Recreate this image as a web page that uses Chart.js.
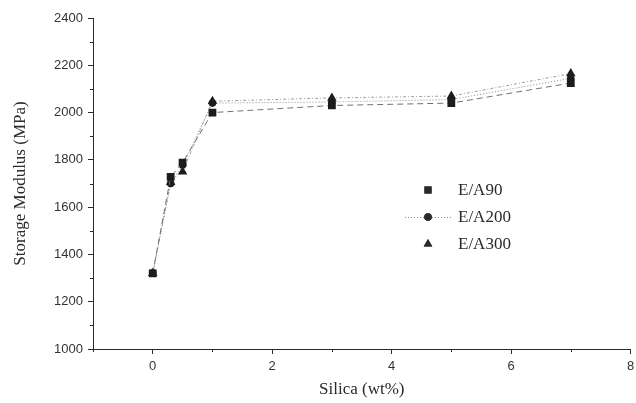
<!DOCTYPE html>
<html>
<head>
<meta charset="utf-8">
<script src="https://cdn.jsdelivr.net/npm/chart.js@4.4.0/dist/chart.umd.min.js"></script>
<style>
  html, body { margin: 0; padding: 0; background: #fff; }
  #wrap { width: 636px; height: 403px; }
</style>
</head>
<body>
<div id="wrap"><canvas id="chart" width="636" height="403"></canvas></div>
<script>
// ---- data ----
const silica = [0, 0.3, 0.5, 1, 3, 5, 7];
const ea90  = [1320, 1728, 1788, 2000, 2030, 2040, 2125];
const ea200 = [1322, 1700, 1778, 2040, 2045, 2055, 2145];
const ea300 = [1320, 1705, 1750, 2048, 2062, 2070, 2165];
const seriesNames = ['E/A90', 'E/A200', 'E/A300'];
const yTicks = [1000, 1200, 1400, 1600, 1800, 2000, 2200, 2400];
const xTicks = [0, 2, 4, 6, 8];

const ink = '#2a2a2a';
const serif = '"Liberation Serif", "Times New Roman", serif';
const sans = 'Arial, "Liberation Sans", sans-serif';

function pts(ys) {
  return silica.map((x, i) => ({x: x, y: ys[i]}));
}

// minor tick marks on both axes
const minorTicks = {
  id: 'minorTicks',
  afterDraw(chart) {
    const ctx = chart.ctx;
    const xs = chart.scales.x, ys = chart.scales.y;
    ctx.save();
    ctx.strokeStyle = ink;
    ctx.lineWidth = 1;
    ctx.beginPath();
    for (let v = -1; v <= 8; v += 2) {
      const px = Math.round(xs.getPixelForValue(v)) + 0.5;
      ctx.moveTo(px, xs.top);
      ctx.lineTo(px, xs.top + 3);
    }
    for (let v = 1100; v < 2400; v += 200) {
      const py = Math.round(ys.getPixelForValue(v)) + 0.5;
      ctx.moveTo(ys.right, py);
      ctx.lineTo(ys.right - 3, py);
    }
    ctx.stroke();
    ctx.restore();
  }
};

// legend drawn inside the plot area
const innerLegend = {
  id: 'innerLegend',
  afterDatasetsDraw(chart) {
    const ctx = chart.ctx;
    const x0 = 428, rows = [190, 217, 244];
    ctx.save();
    chart.data.datasets.forEach((ds, i) => {
      const y = rows[i];
      if (ds.legendLine) {
        ctx.strokeStyle = ds.borderColor;
        ctx.lineWidth = 1;
        ctx.setLineDash(ds.borderDash || []);
        ctx.beginPath();
        ctx.moveTo(x0 - 23, y + 0.5);
        ctx.lineTo(x0 + 23, y + 0.5);
        ctx.stroke();
        ctx.setLineDash([]);
      }
      Chart.helpers.drawPoint(ctx, {
        pointStyle: ds.pointStyle,
        radius: ds.legendRadius,
        borderWidth: 0
      }, x0, y);
      ctx.fillStyle = ink;
      ctx.fill();
      ctx.font = '17px ' + serif;
      ctx.textBaseline = 'middle';
      ctx.fillText(ds.label, x0 + 30, y + 1);
    });
    ctx.restore();
  }
};

new Chart(document.getElementById('chart'), {
  type: 'scatter',
  data: {
    datasets: [
      {
        label: seriesNames[0], data: pts(ea90), showLine: true,
        borderColor: '#707070', borderWidth: 1, borderDash: [6, 4],
        pointStyle: 'rect', pointRadius: 5.5, legendRadius: 5,
        pointBackgroundColor: '#1c1c1c', pointBorderColor: '#1c1c1c', pointBorderWidth: 0
      },
      {
        label: seriesNames[1], data: pts(ea200), showLine: true,
        borderColor: '#8a8a8a', borderWidth: 1, borderDash: [1, 2],
        pointStyle: 'circle', pointRadius: 3.8, legendRadius: 3.8, legendLine: true,
        pointBackgroundColor: '#1c1c1c', pointBorderColor: '#1c1c1c', pointBorderWidth: 0
      },
      {
        label: seriesNames[2], data: pts(ea300), showLine: true,
        borderColor: '#a0a0a0', borderWidth: 1, borderDash: [3, 2, 1, 2],
        pointStyle: 'triangle', pointRadius: 5.5, legendRadius: 5,
        pointBackgroundColor: '#1c1c1c', pointBorderColor: '#1c1c1c', pointBorderWidth: 0
      }
    ]
  },
  options: {
    responsive: false,
    animation: false,
    layout: { padding: { top: 18, right: 0, left: 0, bottom: 0 } },
    plugins: { legend: { display: false }, tooltip: { enabled: false } },
    scales: {
      x: {
        type: 'linear', min: -1, max: 8,
        afterBuildTicks: s => { s.ticks = xTicks.map(v => ({value: v})); },
        afterFit: s => { s.height = 54; s.paddingRight = 3; s.paddingLeft = 0; },
        grid: { drawOnChartArea: false, tickLength: 5, tickColor: ink, color: ink },
        border: { color: ink, width: 1 },
        ticks: { color: '#333', font: { family: sans, size: 13 }, padding: 5, maxRotation: 0,
                 callback: v => String(v) },
        title: { display: true, text: 'Silica (wt%)', color: ink,
                 font: { family: serif, size: 17 }, padding: { top: 2, bottom: 3 } }
      },
      y: {
        type: 'linear', min: 1000, max: 2400,
        afterBuildTicks: s => { s.ticks = yTicks.map(v => ({value: v})); },
        afterFit: s => { s.width = 93; },
        grid: { drawOnChartArea: false, tickLength: 5, tickColor: ink, color: ink },
        border: { color: ink, width: 1 },
        ticks: { color: '#333', font: { family: sans, size: 13 }, padding: 5,
                 callback: v => String(v) },
        title: { display: true, text: 'Storage Modulus (MPa)', color: ink,
                 font: { family: serif, size: 17 }, padding: { top: 10, bottom: 0 } }
      }
    }
  },
  plugins: [minorTicks, innerLegend]
});
</script>
</body>
</html>
